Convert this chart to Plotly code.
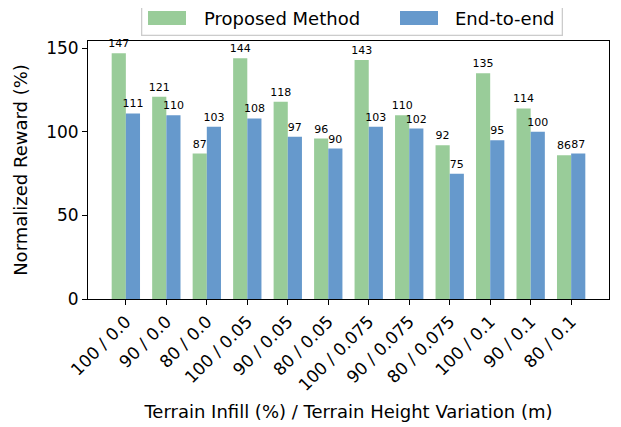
import plotly.graph_objects as go

categories = ["100 / 0.0", "90 / 0.0", "80 / 0.0", "100 / 0.05", "90 / 0.05", "80 / 0.05",
              "100 / 0.075", "90 / 0.075", "80 / 0.075", "100 / 0.1", "90 / 0.1", "80 / 0.1"]
proposed = [147, 121, 87, 144, 118, 96, 143, 110, 92, 135, 114, 86]
end_to_end = [111, 110, 103, 108, 97, 90, 103, 102, 75, 95, 100, 87]
y_ticks = [0, 50, 100, 150]
series_names = ["Proposed Method", "End-to-end"]

GREEN = "rgb(153,204,153)"
BLUE = "rgb(102,153,204)"
FONT = "DejaVu Sans"

# page body has an 8px margin; compensate so the plot sits where the reference has it
OFF = 8
W, H = 621 - OFF, 427 - OFF
ML, MR, MT, MB = 88 - OFF, 12, 41 - OFF, 128
PW, PH = W - ML - MR, H - MT - MB


def px(xs):
    return (xs - OFF - ML) / PW


def py(ys):
    return (H - MB - (ys - OFF)) / PH


x = list(range(len(categories)))

fig = go.Figure()
for vals, name, col in [(proposed, series_names[0], GREEN), (end_to_end, series_names[1], BLUE)]:
    fig.add_trace(go.Bar(x=x, y=vals, name=name, marker_color=col,
                         marker_line_width=0, text=[str(v) for v in vals],
                         textposition="outside",
                         textfont=dict(size=11, color="black", family=FONT),
                         constraintext="none", cliponaxis=False, showlegend=False))

# custom legend (matplotlib-like), screen pixel coordinates
shapes = []
annotations = [dict(text=" ", xref="paper", yref="paper", x=px(141), y=py(3.5),
                    xanchor="left", yanchor="top", showarrow=False,
                    width=419, height=29, borderpad=0, borderwidth=1.3,
                    bordercolor="#cccccc", bgcolor="rgba(0,0,0,0)",
                    font=dict(size=12, family=FONT))]
for (pl, tl), name, col in [((148, 202), series_names[0], GREEN), ((400, 453), series_names[1], BLUE)]:
    shapes.append(dict(type="rect", xref="paper", yref="paper",
                       x0=px(pl), x1=px(pl + 38), y0=py(25), y1=py(11),
                       fillcolor=col, line=dict(width=0), layer="above"))
    annotations.append(dict(text=name, xref="paper", yref="paper", x=px(tl), y=py(18.5),
                            xanchor="left", yanchor="middle", showarrow=False,
                            font=dict(size=18, family=FONT, color="black")))

ymax = max(max(proposed), max(end_to_end)) * 1.05
fig.update_layout(
    width=W, height=H,
    margin=dict(l=ML, r=MR, t=MT, b=MB, autoexpand=False),
    paper_bgcolor="white", plot_bgcolor="white",
    font=dict(family=FONT, size=17, color="black"),
    barmode="group", bargap=0.3, bargroupgap=0,
    showlegend=False,
    shapes=shapes, annotations=annotations,
)
fig.update_xaxes(
    range=[-0.935, len(categories) - 1 + 0.935],
    tickmode="array", tickvals=x, ticktext=categories, tickangle=-45,
    ticks="outside", ticklen=5, tickwidth=1, tickcolor="black",
    showline=True, linecolor="black", linewidth=1, mirror=True,
    showgrid=False, zeroline=False, automargin=False,
    tickfont=dict(size=17, family=FONT),
    title=dict(text="Terrain Infill (%) / Terrain Height Variation (m)",
               font=dict(size=18, family=FONT), standoff=11),
)
fig.update_yaxes(
    range=[0, ymax],
    tickmode="array", tickvals=y_ticks,
    ticks="outside", ticklen=5, tickwidth=1, tickcolor="black",
    showline=True, linecolor="black", linewidth=1, mirror=True,
    showgrid=False, zeroline=False, automargin=False,
    tickfont=dict(size=17, family=FONT),
    title=dict(text="Normalized Reward (%)", font=dict(size=18, family=FONT), standoff=13),
)

fig.write_html("out.html")
